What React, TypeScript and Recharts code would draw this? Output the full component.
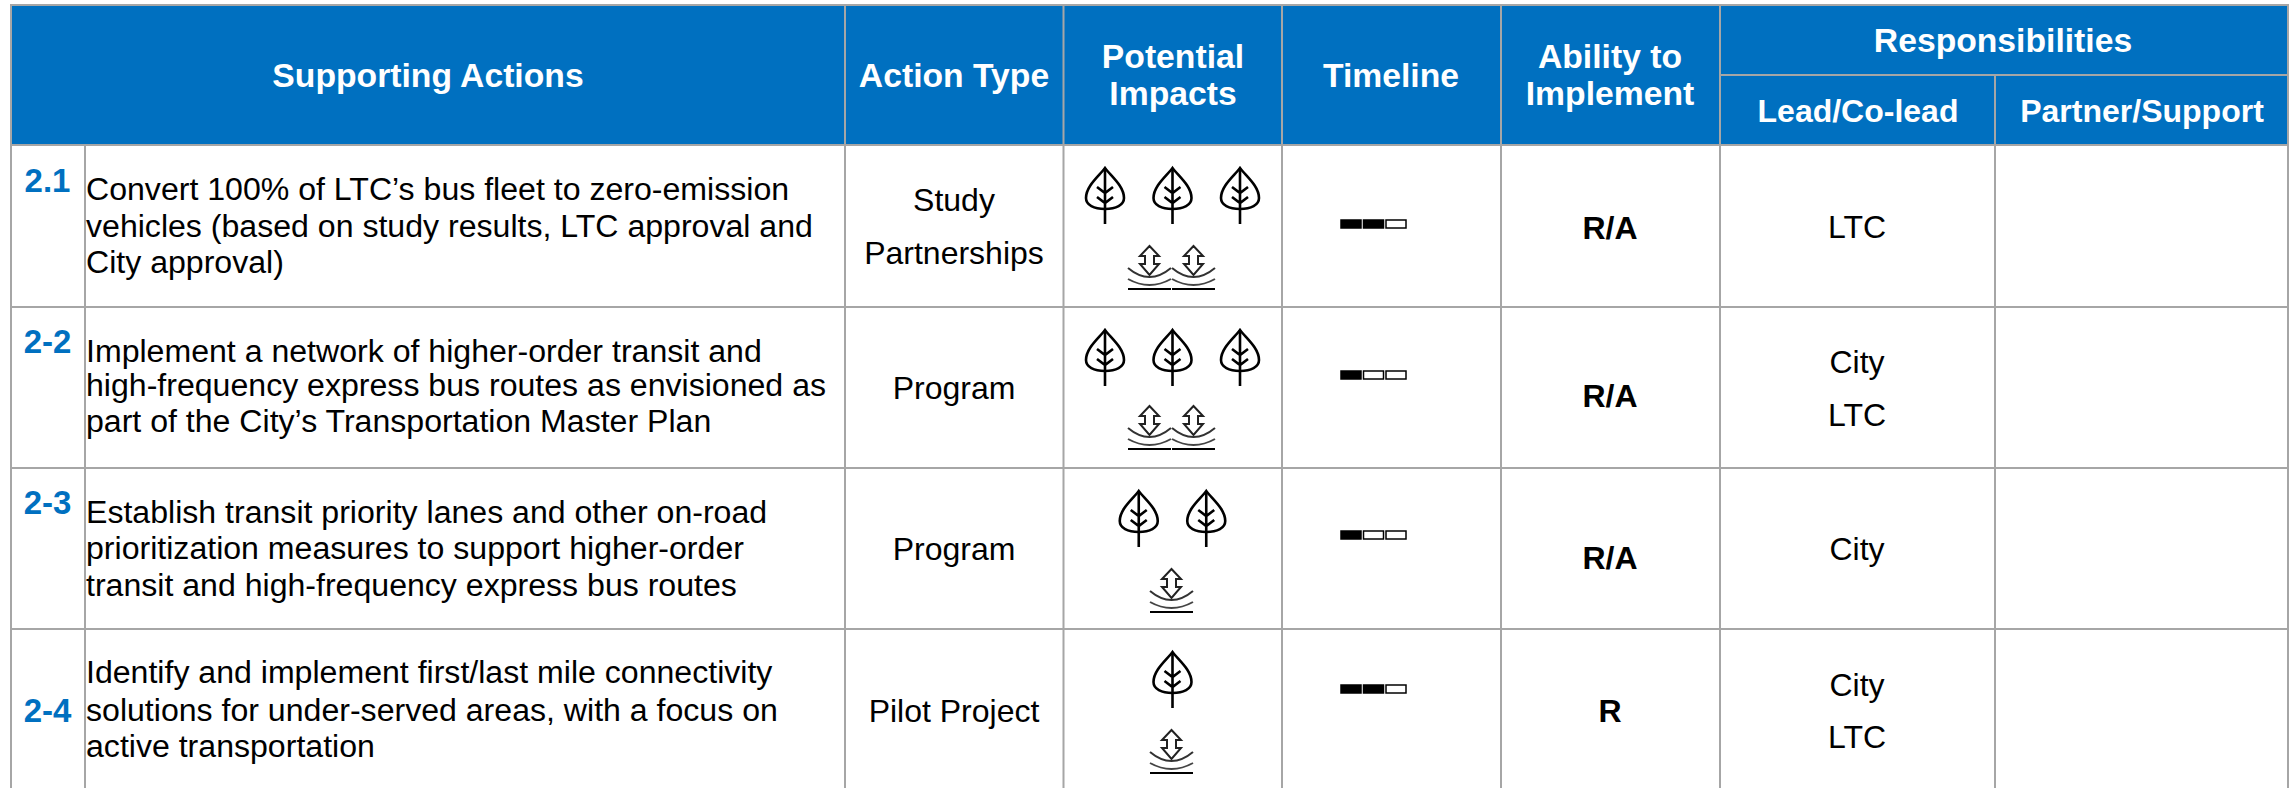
import { ScatterChart, Scatter, XAxis, YAxis, ReferenceArea, ReferenceLine } from 'recharts';

// table content
const mainHeaders = ['Supporting Actions', 'Action Type', 'Potential', 'Impacts', 'Timeline', 'Ability to', 'Implement', 'Responsibilities'];
const subHeaders = ['Lead/Co-lead', 'Partner/Support'];
const actionIds = ['2.1', '2-2', '2-3', '2-4'];
const actionLines = [
  ['Convert 100% of LTC’s bus fleet to zero-emission', 'vehicles (based on study results, LTC approval and', 'City approval)'],
  ['Implement a network of higher-order transit and', 'high-frequency express bus routes as envisioned as', 'part of the City’s Transportation Master Plan'],
  ['Establish transit priority lanes and other on-road', 'prioritization measures to support higher-order', 'transit and high-frequency express bus routes'],
  ['Identify and implement first/last mile connectivity', 'solutions for under-served areas, with a focus on', 'active transportation'],
];
const actionTypes = [['Study', 'Partnerships'], ['Program'], ['Program'], ['Pilot Project']];
const leafCounts = [3, 3, 2, 1];
const waveCounts = [2, 2, 1, 1];
const timelineFilled = [2, 1, 1, 2];
const abilityRatings = ['R/A', 'R/A', 'R/A', 'R'];
const leads = [['LTC'], ['City', 'LTC'], ['City'], ['City', 'LTC']];

// layout, in chart units
const W = 2290;
const H = 788;
const GRID = '#A6A6A6';
const BLUE = '#0070C0';
const FONT = '"Liberation Sans", Arial, sans-serif';
const L = 11;
const R = 2288;
const rowLines = [145, 307, 468, 629];
const colLines = [845, 1063.5, 1282, 1501, 1720, 2288];
const mainHeaderX = [428, 954, 1173, 1173, 1391, 1610, 1610, 2003];
const mainHeaderY = [87, 87, 68, 105, 87, 68, 105, 52];
const subHeaderX = [1858, 2142];
const subHeaderY = [122, 122];
const idY = [192, 353, 514, 722];
const actionY = [[200, 237, 273], [362, 396, 432], [523, 559, 596], [683, 721, 757]];
const typeY = [[211, 264], [399], [560], [722]];
const abilityY = [239, 407, 569, 722];
const leadY = [[238], [373, 426], [560], [696, 748]];
const leafY = [196, 358, 519, 680];
const waveY = [267, 427, 590, 751];
const timelineY = [224, 375, 535, 689];

const centered = (centre: number, count: number, gap: number) =>
  Array.from({ length: count }, (_, i) => centre + (i - (count - 1) / 2) * gap);

const mainHeaderData = mainHeaders.map((label, i) => ({ x: mainHeaderX[i], y: mainHeaderY[i], label }));
const subHeaderData = subHeaders.map((label, i) => ({ x: subHeaderX[i], y: subHeaderY[i], label }));
const idData = actionIds.map((label, i) => ({ x: 47.5, y: idY[i], label }));
const actionData = actionLines.flatMap((lines, r) => lines.map((label, i) => ({ x: 86, y: actionY[r][i], label })));
const typeData = actionTypes.flatMap((lines, r) => lines.map((label, i) => ({ x: 954, y: typeY[r][i], label })));
const leadData = leads.flatMap((lines, r) => lines.map((label, i) => ({ x: 1857, y: leadY[r][i], label })));
const abilityData = abilityRatings.map((label, i) => ({ x: 1610, y: abilityY[i], label }));
const leafData = leafCounts.flatMap((n, r) => centered(1172.5, n, 67.5).map((x) => ({ x, y: leafY[r] })));
const waveData = waveCounts.flatMap((n, r) => centered(1171.5, n, 44).map((x) => ({ x, y: waveY[r] })));
const timelineData = timelineFilled.flatMap((n, r) =>
  [0, 1, 2].map((i) => ({ x: 1351 + i * 22.5, y: timelineY[r], filled: i < n }))
);

const textShape = (size: number, fill: string, weight: string, anchor: string) => (props: any) => (
  <text
    x={props.cx}
    y={props.cy}
    fontFamily={FONT}
    fontSize={size}
    fontWeight={weight}
    fill={fill}
    textAnchor={anchor}
  >
    {props.payload.label}
  </text>
);

const Leaf = (props: any) => (
  <g transform={`translate(${props.cx},${props.cy})`} fill="none" stroke="#000" strokeWidth={2.6}>
    <path d="M0,-28 C-6,-20 -19,-10 -19,2 C-19,9 -11,13 0,13 C11,13 19,9 19,2 C19,-10 6,-20 0,-28 Z" />
    <path d="M0,-28 V28 M-8,-9 L0,-3 L8,-9 M-8,1 L0,7 L8,1" />
  </g>
);

const Wave = (props: any) => (
  <g transform={`translate(${props.cx},${props.cy})`} fill="none">
    <path
      d="M0,-21 L9.5,-11 L4.5,-11 L4.5,-3 L9.5,-3 L0,8 L-9.5,-3 L-4.5,-3 L-4.5,-11 L-9.5,-11 Z"
      stroke="#222"
      strokeWidth={2}
    />
    <path d="M-21.5,1 Q0,19 21.5,1" stroke="#333" strokeWidth={2} />
    <path d="M-21.5,12 Q0,24 21.5,12" stroke="#444" strokeWidth={2} />
    <path d="M-21.5,22 H21.5" stroke="#000" strokeWidth={1.8} />
  </g>
);

const TimelineBlock = (props: any) => (
  <rect
    x={props.cx - 10}
    y={props.cy - 4}
    width={20}
    height={8}
    fill={props.payload.filled ? '#000' : '#fff'}
    stroke="#000"
    strokeWidth={1.5}
  />
);

const seg = (x1: number, y1: number, x2: number, y2: number) => [
  { x: x1, y: y1 },
  { x: x2, y: y2 },
];

const gridSegments = [
  seg(L - 1, 5, R + 1, 5),
  ...rowLines.map((y) => seg(L - 1, y, R + 1, y)),
  seg(1720, 75, R, 75),
  seg(L, 5, L, H),
  seg(85, 145, 85, H),
  ...colLines.map((x) => seg(x, 5, x, H)),
  seg(1995, 75, 1995, H),
];

export default function App() {
  return (
    <div style={{ position: 'absolute', left: 0, top: 0, width: W, height: H, background: '#fff' }}>
      <ScatterChart width={W} height={H} margin={{ top: 0, right: 0, bottom: 0, left: 0 }}>
        <XAxis type="number" dataKey="x" domain={[0, W]} hide />
        <YAxis type="number" dataKey="y" domain={[0, H]} reversed hide />
        <ReferenceArea x1={L} x2={R} y1={5} y2={145} fill={BLUE} fillOpacity={1} stroke="none" ifOverflow="visible" />
        {gridSegments.map((segment, i) => (
          <ReferenceLine key={i} segment={segment} stroke={GRID} strokeWidth={2} ifOverflow="visible" />
        ))}
        <Scatter data={mainHeaderData} shape={textShape(33.7, '#fff', 'bold', 'middle')} isAnimationActive={false} />
        <Scatter data={subHeaderData} shape={textShape(32, '#fff', 'bold', 'middle')} isAnimationActive={false} />
        <Scatter data={idData} shape={textShape(33, BLUE, 'bold', 'middle')} isAnimationActive={false} />
        <Scatter data={actionData} shape={textShape(32.1, '#000', 'normal', 'start')} isAnimationActive={false} />
        <Scatter data={typeData} shape={textShape(32, '#000', 'normal', 'middle')} isAnimationActive={false} />
        <Scatter data={abilityData} shape={textShape(32, '#000', 'bold', 'middle')} isAnimationActive={false} />
        <Scatter data={leadData} shape={textShape(32, '#000', 'normal', 'middle')} isAnimationActive={false} />
        <Scatter data={leafData} shape={Leaf} isAnimationActive={false} />
        <Scatter data={waveData} shape={Wave} isAnimationActive={false} />
        <Scatter data={timelineData} shape={TimelineBlock} isAnimationActive={false} />
      </ScatterChart>
    </div>
  );
}
